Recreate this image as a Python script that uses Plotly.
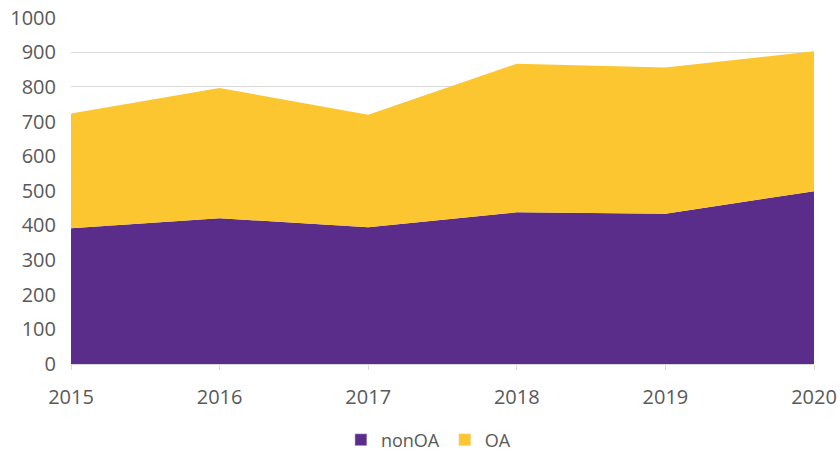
import plotly.graph_objects as go

years = [2015, 2016, 2017, 2018, 2019, 2020]
non_oa = [392, 421, 395, 438, 434, 499]
oa = [331, 376, 325, 429, 422, 404]
y_ticks = [0, 100, 200, 300, 400, 500, 600, 700, 800, 900, 1000]

purple = "#5A2D8A"
yellow = "#FBC62F"
font = dict(family="Open Sans, Liberation Sans, sans-serif", size=20, color="#595959")

fig = go.Figure()
fig.add_trace(go.Scatter(x=years, y=non_oa, name="nonOA", mode="lines",
                         stackgroup="one", line=dict(width=0, color=purple),
                         fillcolor=purple, showlegend=False))
fig.add_trace(go.Scatter(x=years, y=oa, name="OA", mode="lines",
                         stackgroup="one", line=dict(width=0, color=yellow),
                         fillcolor=yellow, showlegend=False))
# legend-only entries for square swatches
fig.add_trace(go.Bar(x=[None], y=[None], name="nonOA", marker_color=purple, showlegend=True))
fig.add_trace(go.Bar(x=[None], y=[None], name="OA", marker_color=yellow, showlegend=True))

fig.update_layout(
    width=840, height=452,
    margin=dict(l=71, r=26, t=17, b=88),
    paper_bgcolor="white", plot_bgcolor="white",
    font=font,
    showlegend=True,
    legend=dict(orientation="h", xref="container", yref="container",
                x=0.51, xanchor="center", y=0.0265, yanchor="middle",
                font=dict(family=font["family"], size=18, color="#595959"),
                traceorder="normal", itemwidth=30),
    xaxis=dict(range=[2015, 2020], tickmode="array", tickvals=years,
               ticktext=[str(y) for y in years], showgrid=False,
               showline=True, linecolor="#d9d9d9", linewidth=1,
               ticks="outside", ticklen=5, tickcolor="#d9d9d9",
               ticklabelstandoff=10, ticklabeloverflow="allow",
               zeroline=False, tickfont=font, automargin=False),
    yaxis=dict(range=[0, 1002], tickmode="array", tickvals=y_ticks,
               showgrid=True, gridcolor="#d9d9d9", gridwidth=1.3,
               zeroline=False, showline=False, ticks="", ticklabelstandoff=14,
               ticklabeloverflow="allow",
               tickfont=font, automargin=False),
)

# remove the default page margin so the figure fills the window exactly
fig.write_html("out.html", config={"displayModeBar": False},
               post_script="document.body.style.margin='0';")
